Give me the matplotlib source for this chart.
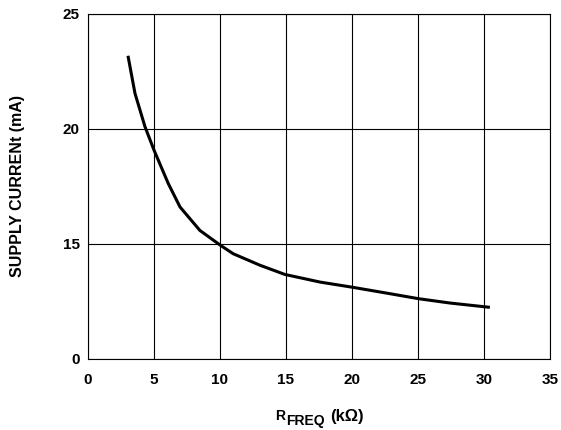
import matplotlib
matplotlib.use('Agg')
import matplotlib.pyplot as plt

plt.rcParams.update({
    'font.family': 'Liberation Sans',
    'font.weight': 'bold',
})

# Supply current vs R_FREQ
r_freq = [3.05, 3.56, 4.32, 5.0, 6.08, 6.97, 8.48, 10.05, 11.0, 13.03,
          14.92, 17.58, 19.98, 22.63, 25.02, 27.42, 30.33]
supply_ma = [23.1, 21.53, 20.08, 19.07, 17.62, 16.6, 15.58, 14.93, 14.57, 14.07,
             13.67, 13.34, 13.12, 12.86, 12.62, 12.43, 12.25]

x_ticks = [0, 5, 10, 15, 20, 25, 30, 35]
# broken axis: bottom of scale is labelled 0
y_ticks = [10, 15, 20, 25]
y_tick_labels = ['0', '15', '20', '25']

W, H = 561, 430
fig = plt.figure(figsize=(W / 100, H / 100), dpi=100)
ax = fig.add_axes([88 / W, 1 - 359 / H, (550 - 88) / W, (359 - 13.5) / H])

ax.plot(r_freq, supply_ma, color='black', linewidth=2.2, zorder=3)

ax.set_xlim(0, 35)
ax.set_ylim(10, 25)
ax.set_xticks(x_ticks)
ax.set_yticks(y_ticks)
ax.set_yticklabels(y_tick_labels)
ax.tick_params(length=0, labelsize=11)
ax.tick_params(axis='y', pad=6)
ax.tick_params(axis='x', pad=10)
ax.grid(True, color='black', linewidth=0.8)
for s in ax.spines.values():
    s.set_linewidth(0.8)

ax.set_ylabel('SUPPLY CURRENt (mA)', fontsize=11.5, fontweight='bold', labelpad=27)

# x label: R with a full-size, lowered FREQ subscript, then (kOhm)
def put(x, y, s, fs=10):
    fig.text(x / W, 1 - y / H, s, fontsize=fs, fontweight='bold', va='baseline')

put(275, 420, 'R')
put(286.5, 425, 'FREQ')
put(330, 421, '(k\u03a9)', fs=12)

fig.savefig('out.png', dpi=100, facecolor='white')
